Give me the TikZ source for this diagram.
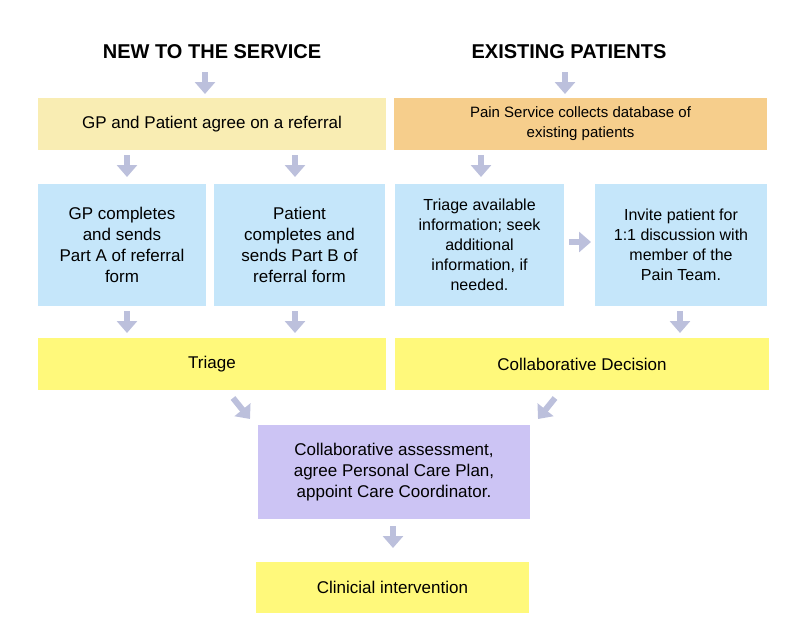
\documentclass[tikz,border=0pt]{standalone}
\usepackage{fontspec}
\setmainfont{Liberation Sans}
\usetikzlibrary{arrows.meta,positioning}
\definecolor{paleyellow}{HTML}{F9EDB3}
\definecolor{paleorange}{HTML}{F6CE8C}
\definecolor{paleblue}{HTML}{C5E6FA}
\definecolor{brightyellow}{HTML}{FFF97B}
\definecolor{palepurple}{HTML}{CCC4F4}
\definecolor{arrowgrey}{HTML}{BCC0DC}
\tikzset{
  box/.style={fill=#1, draw=none, align=center, inner sep=0pt, font=\fontsize{17}{21}\selectfont},
  head/.style={font=\fontsize{20}{24}\selectfont\bfseries},
  arr/.style={arrowgrey, line width=6pt, -{Triangle[width=20pt,length=12pt]}}
}
\begin{document}
\begin{tikzpicture}[x=1pt,y=-1pt]
    \useasboundingbox (0,0) rectangle (799,642);

    % Headings
    \node[head] (new) at (212,52) {NEW TO THE SERVICE};
    \node[head] (exist) at (569,52) {EXISTING PATIENTS};

    % First row
    \node[box=paleyellow, minimum width=348, minimum height=52] (agree) at (212,124) {GP and Patient agree on a referral};
    \node[box=paleorange, minimum width=373, minimum height=52, font=\fontsize{15}{20}\selectfont] (collect) at (580.5,124) {Pain Service collects database of\\existing patients};

    % Second row
    \node[box=paleblue, minimum width=168, minimum height=122] (parta) at (122,245) {GP completes\\and sends\\Part A of referral\\form};
    \node[box=paleblue, minimum width=171, minimum height=122] (partb) at (299.5,245) {Patient\\completes and\\sends Part B of\\referral form};
    \node[box=paleblue, minimum width=169, minimum height=122, font=\fontsize{16}{20}\selectfont] (info) at (479.5,245) {Triage available\\information; seek\\additional\\information, if\\needed.};
    \node[box=paleblue, minimum width=172, minimum height=122, font=\fontsize{16}{20}\selectfont] (invite) at (681,245) {Invite patient for\\1:1 discussion with\\member of the\\Pain Team.};

    % Third row
    \node[box=brightyellow, minimum width=348, minimum height=52] (triage) at (212,364) {Triage};
    \node[box=brightyellow, minimum width=374, minimum height=52] (decision) at (582,364) {Collaborative Decision};

    % Bottom
    \node[box=palepurple, minimum width=272, minimum height=94] (assess) at (394,472) {Collaborative assessment,\\agree Personal Care Plan,\\appoint Care Coordinator.};
    \node[box=brightyellow, minimum width=273, minimum height=51] (clinic) at (392.5,587.5) {Clinicial intervention};

    % Arrows
    \draw[arr] (205,72) -- (205,94);
    \draw[arr] (565,72) -- (565,94);
    \draw[arr] (127,155) -- (127,177);
    \draw[arr] (295,155) -- (295,177);
    \draw[arr] (481,155) -- (481,177);
    \draw[arr] (569,242) -- (591,242);
    \draw[arr] (127,311) -- (127,333);
    \draw[arr] (295,311) -- (295,333);
    \draw[arr] (680,311) -- (680,333);
    \draw[arr] (233,398) -- (250,419);
    \draw[arr] (555,398) -- (538,419);
    \draw[arr] (393,526) -- (393,548);
\end{tikzpicture}
\end{document}
